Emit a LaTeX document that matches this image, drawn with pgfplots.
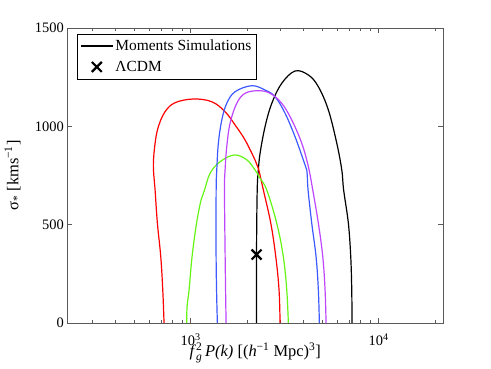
\documentclass[border=0pt]{standalone}
\usepackage{amsmath}
\usepackage{fontspec}
\setmainfont{Liberation Serif}
\usepackage{pgfplots}
\pgfplotsset{compat=1.18}
\definecolor{cred}{RGB}{255,0,0}
\definecolor{cgreen}{RGB}{100,245,20}
\definecolor{cblue}{RGB}{60,90,255}
\definecolor{cpurple}{RGB}{190,70,255}
\definecolor{axgray}{RGB}{90,90,90}

\begin{document}
\begin{tikzpicture}
\begin{axis}[
  scale only axis, width=376bp, height=295bp,
  xmode=log, xmin=221, xmax=22100, ymin=0, ymax=1500,
  xtick={1000,10000}, xticklabels={10\textsuperscript{3},10\textsuperscript{4}},
  minor xtick={300,400,500,600,700,800,900,2000,3000,4000,5000,6000,7000,8000,9000,20000},
  ytick={0,500,1000,1500}, yticklabels={0,500,1000,1500},
  tick align=inside, major tick length=5bp, minor tick length=3bp,
  axis line style={axgray, line width=0.8bp},
  tick style={axgray, line width=0.6bp},
  tick label style={font=\fontsize{14.5}{17}\selectfont},
  xticklabel style={yshift=-7bp},
  label style={font=\fontsize{16.5}{19}\selectfont},
  xlabel={\textit{f}$_{\textit{g}}^{\text{2}}$\,\textit{P(k)} [(\textit{h}$^{\text{−1}}$ Mpc)$^{\text{3}}$]},
  xlabel style={at={(axis description cs:0.5,-0.102)}, anchor=center},
  ylabel={σ\textsubscript{*} [kms\textsuperscript{−1}]},
  ylabel style={at={(axis description cs:-0.145,0.5)}, anchor=center},
  legend style={at={(axis description cs:0.0258,0.9807)}, anchor=north west,
    draw=black, row sep=5bp, inner ysep=4bp, font=\fontsize{15.5}{18}\selectfont},
  legend cell align=left,
  legend image code/.code={\draw[mark repeat=2,mark phase=2,#1] plot coordinates {(2bp,0bp)(18bp,0bp)(34bp,0bp)};},
]
\addplot[black, line width=1.2bp, smooth, tension=0.6] coordinates {
(2244,0)(2244,371.2)(2262,676.3)(2294,778)(2343,862.9)(2490,998.1)(2704,1117)(3055,1218.8)
(3596,1281.3)(4233,1261)(4784,1201.5)(5408,1083.1)(5996,913.7)(6374,778)(6520,676.3)
(6910,507)(7113,337.1)(7201,167.8)(7227,0)};
\addlegendentry{Moments Simulations}
\addplot[only marks, mark=x, mark size=7bp, line width=2.2bp, black]
  coordinates {(2244,348)};
\addlegendentry{ΛCDM}
\addplot[cred, line width=1.2bp, smooth, tension=0.6, forget plot] coordinates {
(722.8,0)(711.5,167.8)(694.3,337.1)(666.0,508.5)(647.6,676.3)(634,800)(647.6,913.7)
(674.2,998.1)(731.8,1074.4)(827.3,1120.2)(1034.9,1139)(1296.6,1125.2)(1526,1074.4)
(1725,1006.8)(1950,930.5)(2203,828.8)(2294,786.6)(2439,676.3)(2671,507.8)
(2840,337.1)(2956,167.8)(2993,0)};
\addplot[cgreen, line width=1.2bp, smooth, tension=0.6, forget plot] coordinates {
(954.5,0)(958,82.9)(981.8,167.8)(1018.5,337.1)(1076,507)(1137,625.4)(1187,676.3)
(1270,761.2)(1435.5,820.2)(1710,854.2)(1990,830)(2203,778)(2343,735.8)(2543,676.3)
(2874,507)(3115,337.1)(3249,167.8)(3313,0)};
\addplot[cblue, line width=1.2bp, smooth, tension=0.6, forget plot] coordinates {
(1388.6,0)(1375,167.8)(1366.6,371.2)(1368,676.3)(1378.5,778)(1405.7,913.7)(1466,1032)
(1558,1117)(1725,1176)(2116,1206.6)(2490,1184.7)(2815,1150.7)(3183,1066.3)(3596,947.3)
(3981,828.8)(4151,778)(4217,676.3)(4412,507)(4651,337.1)(4784,167.8)(4843,0)};
\addplot[cpurple, line width=1.2bp, smooth, tension=0.6, forget plot] coordinates {
(1545,0)(1535.6,167.8)(1526,371.2)(1515,676.3)(1526,778)(1558,896.4)(1622,1015.4)
(1761,1117)(1950,1168)(2294,1181.2)(2648,1168)(3055,1117)(3455,1032)(3905,913.7)
(4233,794.7)(4467,676.3)(4784,507)(5050,337.1)(5194,167.8)(5258,0)};
\end{axis}
\pgfresetboundingbox
\path[use as bounding box] (-67.3bp,-46bp) rectangle (423.7bp,323bp);
\end{tikzpicture}
\end{document}
